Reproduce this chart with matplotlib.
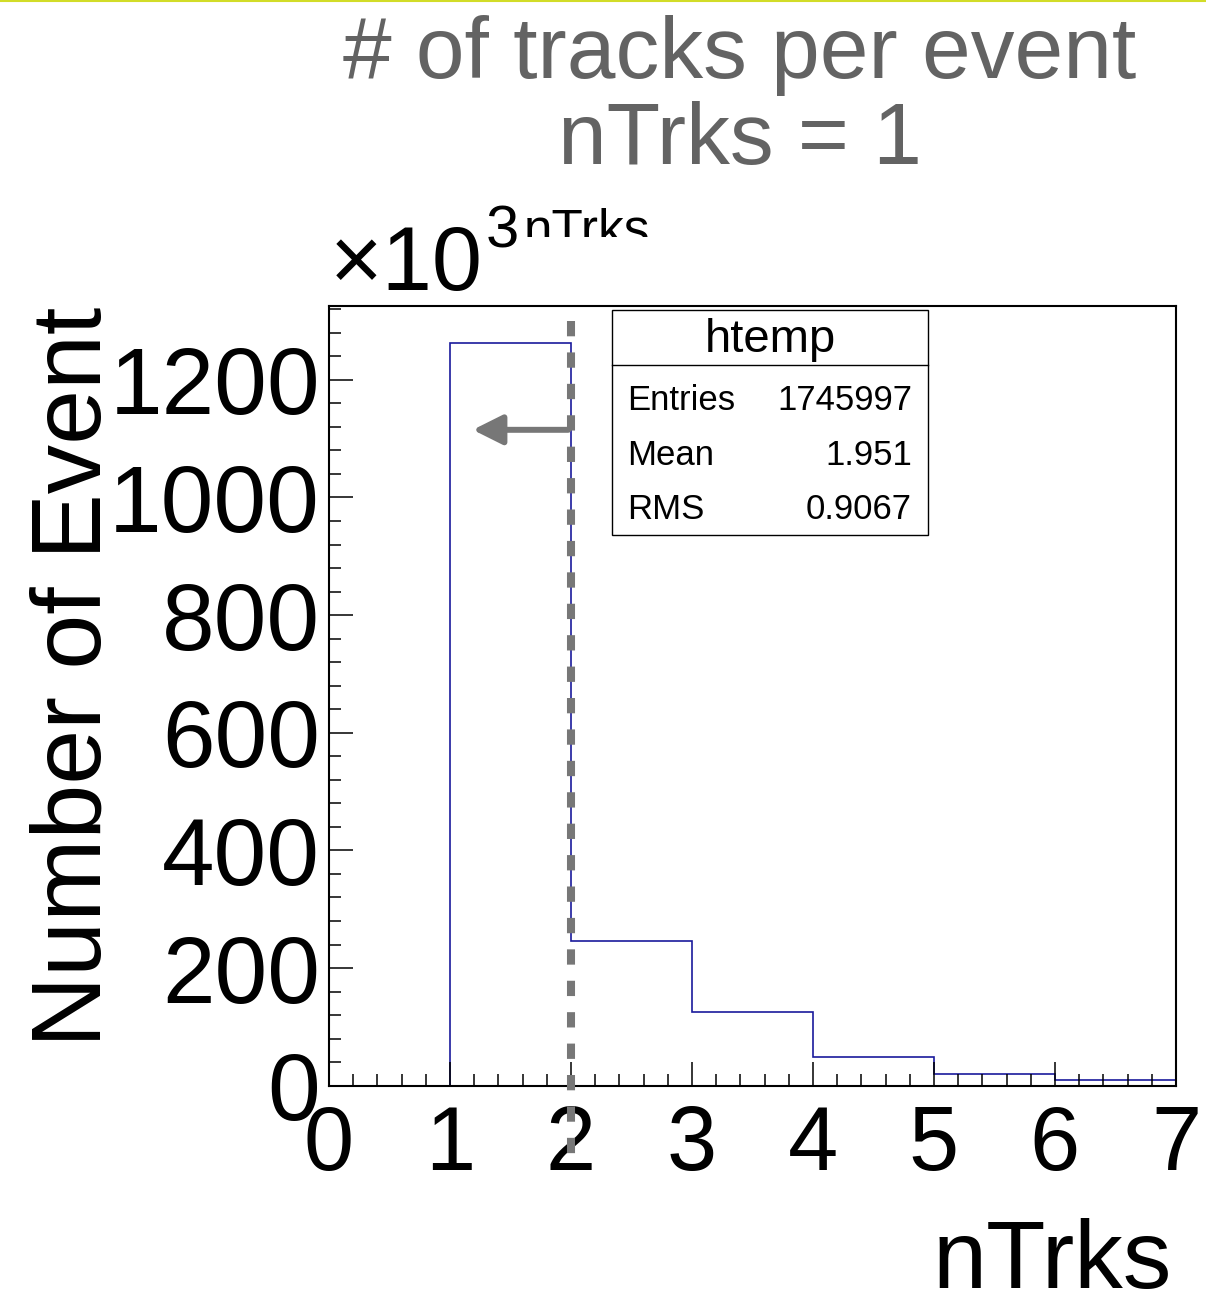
# -*- coding: utf-8 -*-
# nTrks histogram, ROOT style

import matplotlib
matplotlib.use("Agg")
import matplotlib.pyplot as plt
from matplotlib.patches import Rectangle, FancyArrowPatch
from matplotlib.lines import Line2D
from matplotlib.transforms import Bbox, TransformedBbox
from matplotlib.ticker import MultipleLocator

plt.rcParams['font.family'] = ['Liberation Sans', 'DejaVu Sans']

# data (counts in units of 10^3)
bin_edges = [0, 1, 2, 3, 4, 5, 6, 7]
counts_k = [0, 1263, 246, 125, 49, 20, 10]
stat_names = ["Entries", "Mean", "RMS"]
stat_values = ["1745997", "1.951", "0.9067"]
cut_value = 2

W, H = 1206, 1292
fig = plt.figure(figsize=(W / 100, H / 100), dpi=100)


def fx(px):
    return px / W


def fy(py):
    # pixel from top -> figure fraction
    return 1 - py / H


ax_l, ax_r, ax_t, ax_b = 329, 1176, 305.7, 1085.7
ax = fig.add_axes([fx(ax_l), fy(ax_b), fx(ax_r - ax_l), (ax_b - ax_t) / H])

ax.stairs(counts_k, bin_edges, color="#1a1a9c", linewidth=1.2)

ax.set_xlim(0, 7)
ax.set_ylim(0, 1326)
ax.xaxis.set_major_locator(MultipleLocator(1))
ax.xaxis.set_minor_locator(MultipleLocator(0.2))
ax.yaxis.set_major_locator(MultipleLocator(200))
ax.yaxis.set_minor_locator(MultipleLocator(40))
ax.tick_params(which="both", direction="in", top=False, right=False, width=1.1)
ax.tick_params(which="major", length=17)
ax.tick_params(which="minor", length=8.6)
ax.tick_params(axis="x", labelsize=65, pad=13)
ax.tick_params(axis="y", labelsize=68, pad=6.5)
for s in ax.spines.values():
    s.set_linewidth(1.5)

# cut line (drawn top -> bottom so the dash pattern starts at the top) and arrow
ax.plot([cut_value, cut_value], [1300, -140], color="#777777", linewidth=5.8,
        linestyle=(0, (1.9, 2.0)), clip_on=False, zorder=5)
arr = FancyArrowPatch((cut_value, 1115), (1.165, 1115),
                      arrowstyle="-|>,head_length=1.8,head_width=0.9",
                      mutation_scale=10, color="#777777", linewidth=4.3,
                      zorder=6)
ax.add_patch(arr)

# axis titles
fig.text(fx(101), fy(307), "Number of Event", fontsize=71, rotation=90,
         rotation_mode="anchor", ha="right", va="baseline")
fig.text(fx(1172), fy(1288), "nTrks", fontsize=70, ha="right", va="baseline")

# title
title_col = "#636363"
fig.text(fx(740), fy(78), "# of tracks per event", fontsize=63,
         color=title_col, ha="center", va="baseline")
fig.text(fx(740), fy(164), "nTrks = 1", fontsize=63,
         color=title_col, ha="center", va="baseline")

# exponent label
fig.text(fx(330), fy(290), "\u00d710", fontsize=65, ha="left", va="baseline")
fig.text(fx(486), fy(248), "3", fontsize=43, ha="left", va="baseline")
t = fig.text(fx(524), fy(246), "nTrks", fontsize=37, ha="left",
             va="baseline", clip_on=True)
t.set_clip_box(TransformedBbox(Bbox([[0, fy(237)], [1, 1]]), fig.transFigure))

# stats box
bx0, bx1, by0, by1, bdiv = 612, 928, 310, 535, 365
fig.add_artist(Rectangle((fx(bx0), fy(by1)), fx(bx1 - bx0), (by1 - by0) / H,
                         transform=fig.transFigure, facecolor="white",
                         edgecolor="black", linewidth=1.0, zorder=10))
fig.add_artist(Line2D([fx(bx0), fx(bx1)], [fy(bdiv), fy(bdiv)],
                      transform=fig.transFigure, color="black",
                      linewidth=1.0, zorder=11))
fig.text(fx(770), fy(352), "htemp", fontsize=34, ha="center",
         va="baseline", zorder=12)
for name, val, yb in zip(stat_names, stat_values, [410, 465, 519]):
    fig.text(fx(627), fy(yb), name, fontsize=25, ha="left", va="baseline",
             zorder=12)
    fig.text(fx(912), fy(yb), val, fontsize=25, ha="right", va="baseline",
             zorder=12)

# thin yellow line at the very top
fig.add_artist(Line2D([0, 1], [fy(1), fy(1)], transform=fig.transFigure,
                      color="#d2dc28", linewidth=1.5))

fig.savefig("out.png", dpi=100)
